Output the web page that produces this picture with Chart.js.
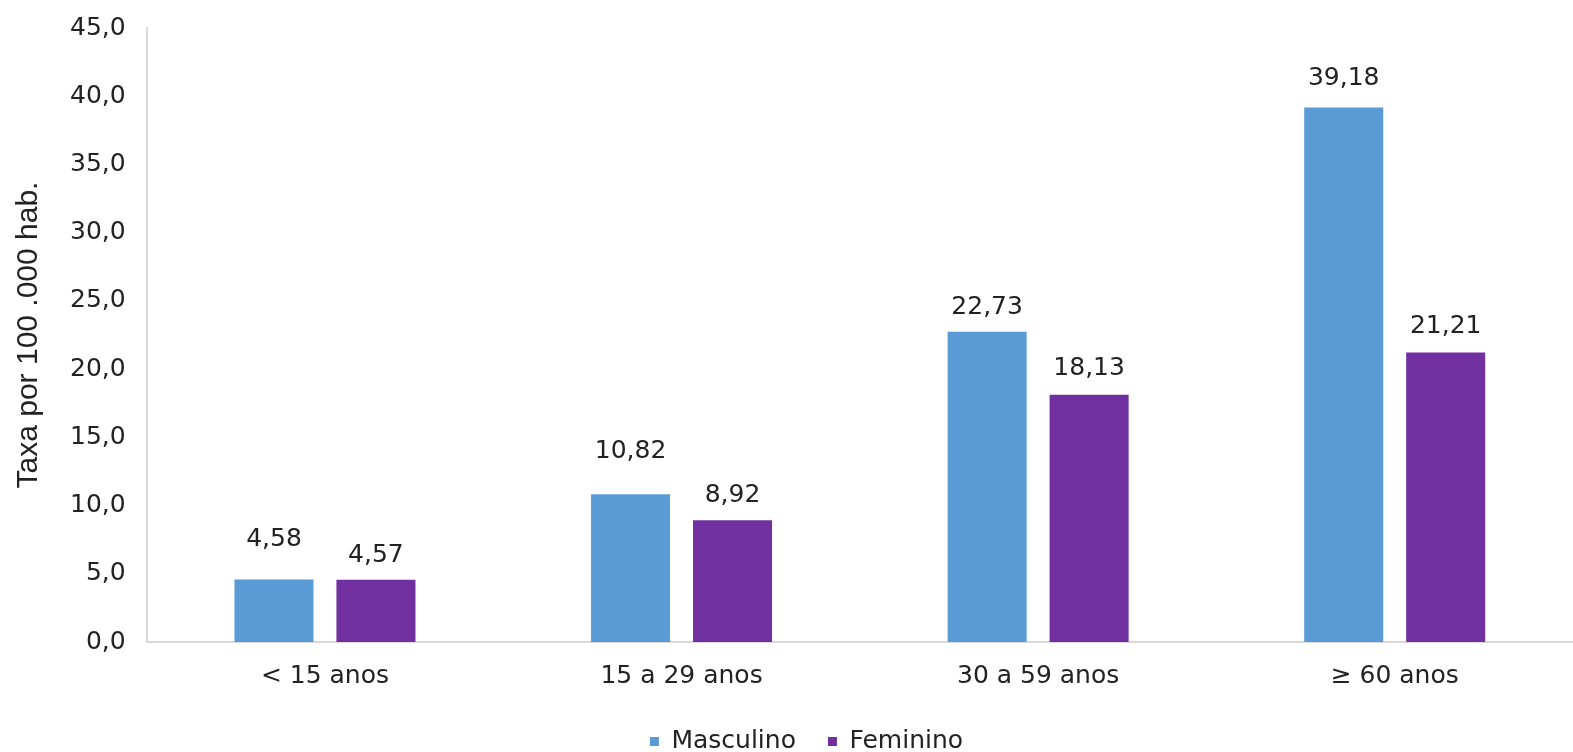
<!DOCTYPE html>
<html><head><meta charset="utf-8">
<script src="https://cdn.jsdelivr.net/npm/chart.js@4"></script>
<style>html,body{margin:0;padding:0;background:#fff}#w{width:1573px;height:752px}</style>
</head><body><div id="w"><canvas id="c"></canvas></div>
<script>
const categories = ['< 15 anos', '15 a 29 anos', '30 a 59 anos', '≥ 60 anos'];
const masculino = [4.58, 10.82, 22.73, 39.18];
const feminino = [4.57, 8.92, 18.13, 21.21];
const seriesNames = ['Masculino', 'Feminino'];
const yTitle = 'Taxa por 100 .000 hab.';

const fmt = v => v.toFixed(2).replace('.', ',');
const FONT = '"DejaVu Sans"';
const TXT = '#222222';
const labelLift = [[43, 45, 27, 31], [27, 27, 29, 29]];

const labelPlugin = {
  id: 'vals',
  afterDatasetsDraw(chart) {
    const ctx = chart.ctx;
    ctx.save();
    ctx.font = '25px ' + FONT;
    ctx.fillStyle = TXT;
    ctx.textAlign = 'center';
    ctx.textBaseline = 'alphabetic';
    chart.data.datasets.forEach((ds, di) => {
      chart.getDatasetMeta(di).data.forEach((bar, i) => {
        ctx.fillText(fmt(ds.data[i]), bar.x, bar.y - labelLift[di][i] + 9);
      });
    });
    ctx.restore();
  }
};

const legendShift = {
  id: 'legendShift',
  afterLayout(chart) {
    if (chart.legend) { chart.legend.left += 20; chart.legend.right += 20; }
  }
};

new Chart(document.getElementById('c'), {
  type: 'bar',
  data: {
    labels: categories,
    datasets: [
      { label: seriesNames[0], data: masculino, backgroundColor: '#5B9BD5' },
      { label: seriesNames[1], data: feminino, backgroundColor: '#7030A0' }
    ]
  },
  options: {
    responsive: true,
    maintainAspectRatio: false,
    animation: false,
    categoryPercentage: 0.572,
    barPercentage: 0.775,
    layout: { padding: { left: 0, right: 0, top: -4, bottom: -12 } },
    plugins: {
      legend: {
        position: 'bottom',
        labels: { boxWidth: 9, boxHeight: 9, padding: 32, color: TXT, font: { family: 'DejaVu Sans', size: 25 } }
      },
      tooltip: { enabled: false }
    },
    scales: {
      x: {
        grid: { display: false },
        border: { color: '#d9d9d9', width: 2 },
        ticks: { color: TXT, padding: 11, font: { family: 'DejaVu Sans', size: 25 } },
        afterFit(scale) { scale.height -= 5; }
      },
      y: {
        min: 0, max: 45,
        grid: { display: false },
        border: { color: '#d9d9d9', width: 2 },
        ticks: { stepSize: 5, padding: 13, color: TXT, font: { family: 'DejaVu Sans', size: 25 },
          callback: v => v.toFixed(1).replace('.', ',') },
        title: { display: true, text: yTitle, color: TXT, font: { family: 'Liberation Sans', size: 30 }, padding: { top: 11, bottom: 10 } }
      }
    }
  },
  plugins: [labelPlugin, legendShift]
});
</script></body></html>
